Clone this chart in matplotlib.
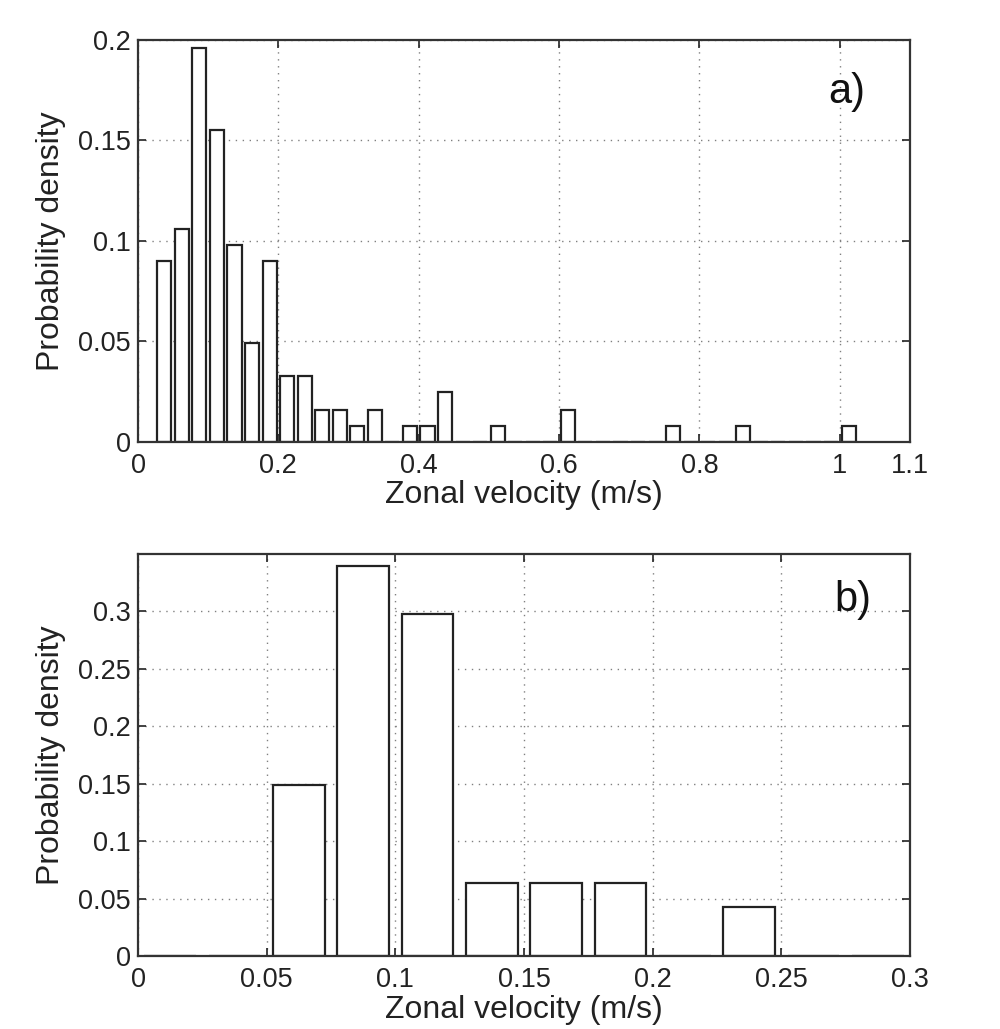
import numpy as np
import matplotlib

matplotlib.use('Agg')
import matplotlib.pyplot as plt

plt.rcParams['font.family'] = ['Liberation Sans', 'DejaVu Sans']

# ================ data ======================
# panel a): bin centres (bin width 0.025) and probability per bin
a_centers = [0.0375, 0.0625, 0.0875, 0.1125, 0.1375, 0.1625, 0.1875, 0.2125,
             0.2375, 0.2625, 0.2875, 0.3125, 0.3375, 0.3625, 0.3875, 0.4125,
             0.4375, 0.4625, 0.4875, 0.5125, 0.5375, 0.5625, 0.5875, 0.6125,
             0.6375, 0.6625, 0.6875, 0.7125, 0.7375, 0.7625, 0.7875, 0.8125,
             0.8375, 0.8625, 0.8875, 0.9125, 0.9375, 0.9625, 0.9875, 1.0125]
a_density = [0.090, 0.106, 0.196, 0.155, 0.098, 0.049, 0.090, 0.033,
             0.033, 0.016, 0.016, 0.008, 0.016, 0.0, 0.008, 0.008,
             0.025, 0.0, 0.0, 0.008, 0.0, 0.0, 0.0, 0.016,
             0.0, 0.0, 0.0, 0.0, 0.0, 0.008, 0.0, 0.0,
             0.0, 0.008, 0.0, 0.0, 0.0, 0.0, 0.0, 0.008]

# panel b)
b_centers = [0.0125, 0.0375, 0.0625, 0.0875, 0.1125, 0.1375, 0.1625, 0.1875,
             0.2125, 0.2375, 0.2625, 0.2875]
b_density = [0.0, 0.0, 0.149, 0.340, 0.298, 0.064, 0.064, 0.064,
             0.0, 0.043, 0.0, 0.0]

a_xticks = [0, 0.2, 0.4, 0.6, 0.8, 1, 1.1]
a_xticklabels = ['0', '0.2', '0.4', '0.6', '0.8', '1', '1.1']
a_yticks = [0, 0.05, 0.1, 0.15, 0.2]
a_yticklabels = ['0', '0.05', '0.1', '0.15', '0.2']
b_xticks = [0, 0.05, 0.1, 0.15, 0.2, 0.25, 0.3]
b_xticklabels = ['0', '0.05', '0.1', '0.15', '0.2', '0.25', '0.3']
b_yticks = [0, 0.05, 0.1, 0.15, 0.2, 0.25, 0.3]
b_yticklabels = ['0', '0.05', '0.1', '0.15', '0.2', '0.25', '0.3']

BinWidth = 0.025


def HistPanel(ax, centers, density, xlim, ylim, xticks, xticklabels,
              yticks, yticklabels, tag, tagpos):
    ax.bar(centers, density, width=0.8 * BinWidth, color='white',
           edgecolor='#222222', linewidth=1.6, zorder=3)
    ax.set_xlim(xlim)
    ax.set_ylim(ylim)
    ax.set_xticks(xticks)
    ax.set_xticklabels(xticklabels)
    ax.set_yticks(yticks)
    ax.set_yticklabels(yticklabels)
    ax.tick_params(direction='in', length=6, width=1.2, labelsize=19.5,
                   top=True, right=True, colors='#222222')
    ax.tick_params(axis='x', pad=8)
    ax.tick_params(axis='y', pad=5)
    for sp in ax.spines.values():
        sp.set_linewidth(1.6)
        sp.set_color('#333333')
        sp.set_zorder(4)
    ax.grid(True, color='0.5', linestyle=(0, (1, 4)), linewidth=1.0, zorder=1)
    ax.set_xlabel('Zonal velocity (m/s)', fontsize=23, labelpad=1, color='#222222')
    ax.set_ylabel('Probability density', fontsize=23, labelpad=9, color='#222222')
    ax.text(tagpos[0], tagpos[1], tag, transform=ax.transAxes, fontsize=30,
            ha='center', va='center', color='#111111', zorder=5)


Figure = plt.figure(figsize=(10, 10.29), dpi=100)
ax1 = Figure.add_axes([0.138, 0.5705, 0.772, 0.3907])
ax2 = Figure.add_axes([0.138, 0.0709, 0.772, 0.3907])

HistPanel(ax1, a_centers, a_density, (0, 1.1), (0, 0.2), a_xticks,
          a_xticklabels, a_yticks, a_yticklabels, 'a)', (0.918, 0.871))
HistPanel(ax2, b_centers, b_density, (0, 0.3), (0, 0.35), b_xticks,
          b_xticklabels, b_yticks, b_yticklabels, 'b)', (0.926, 0.886))

Figure.savefig('out.png', dpi=100)
